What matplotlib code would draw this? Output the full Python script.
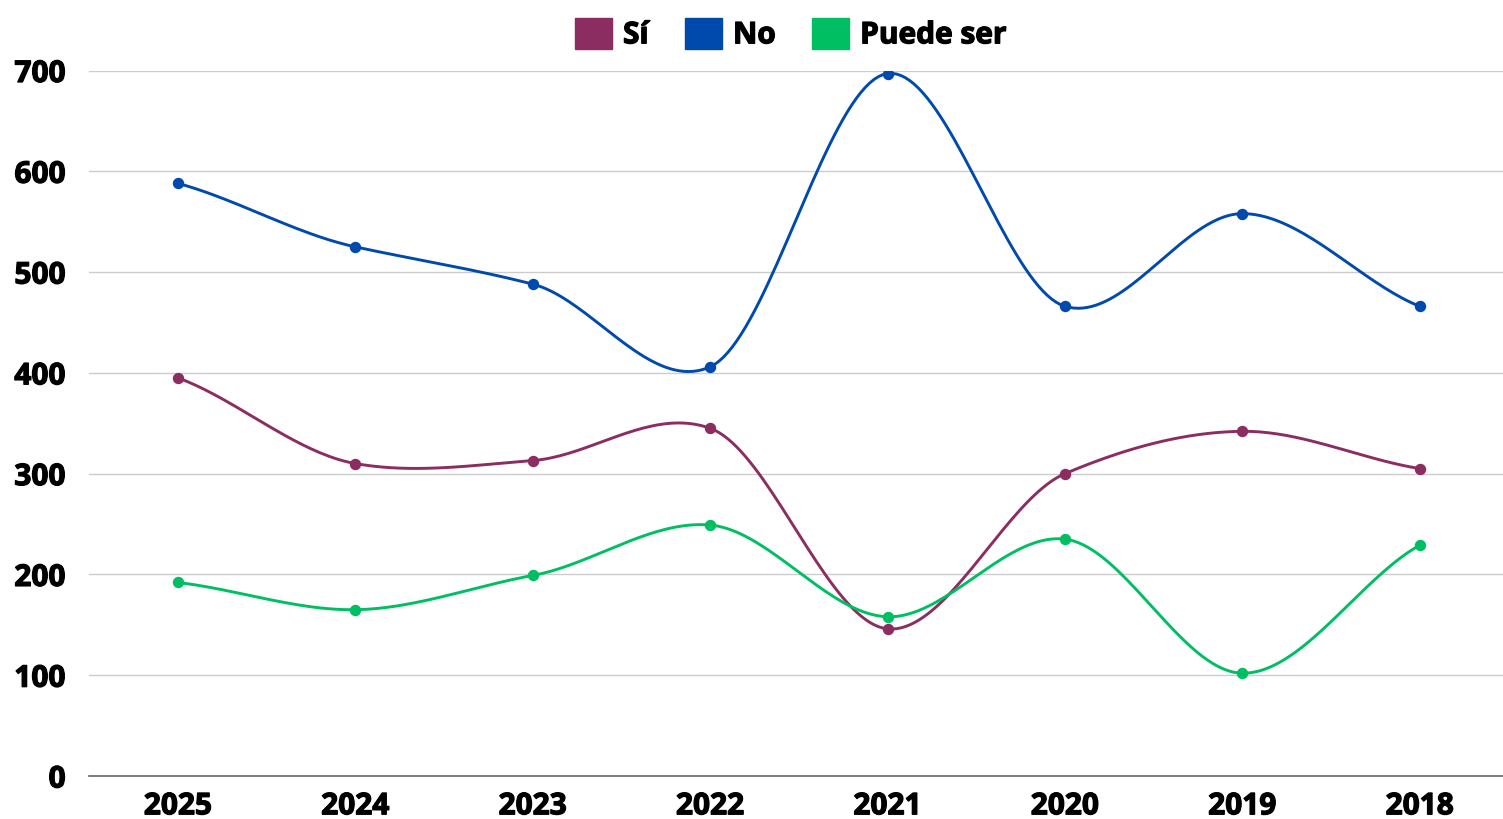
import numpy as np
import matplotlib.pyplot as plt
import matplotlib.patheffects as pe
from matplotlib.patches import Patch

plt.rcParams['font.family'] = ['Open Sans', 'DejaVu Sans']
plt.rcParams['font.weight'] = 'bold'

years = ["2025", "2024", "2023", "2022", "2021", "2020", "2019", "2018"]
si = [395, 310, 313, 345, 146, 300, 342, 305]
no = [588, 525, 488, 406, 697, 466, 558, 466]
puede = [192, 165, 199, 249, 158, 235, 102, 229]

series = [("Sí", si, "#8c2d61"), ("No", no, "#014aad"), ("Puede ser", puede, "#00bf63")]


def smooth(y, k=0.38, n=40):
    # cardinal curve through the points
    y = np.asarray(y, dtype=float)
    m = np.zeros_like(y)
    m[1:-1] = (y[2:] - y[:-2]) * k
    m[0] = (y[1] - y[0]) * 2 * k
    m[-1] = (y[-1] - y[-2]) * 2 * k
    xs, ys = [], []
    for i in range(len(y) - 1):
        t = np.linspace(0, 1, n, endpoint=False)
        h00 = 2*t**3 - 3*t**2 + 1
        h10 = t**3 - 2*t**2 + t
        h01 = -2*t**3 + 3*t**2
        h11 = t**3 - t**2
        xs.append(i + t)
        ys.append(h00*y[i] + h10*m[i] + h01*y[i+1] + h11*m[i+1])
    xs.append([len(y) - 1])
    ys.append([y[-1]])
    return np.concatenate(xs), np.concatenate(ys)


fig = plt.figure(figsize=(15.03, 8.2), dpi=100)
ax = fig.add_axes([89.3/1503, 1 - 777/820, 1 - 89.3/1503, (777 - 71.5)/820])

x = np.arange(len(years))
for name, vals, col in series:
    sx, sy = smooth(vals)
    ax.plot(sx, sy, color=col, lw=2.1, solid_capstyle='round', zorder=3)
    ax.plot(x, vals, 'o', color=col, ms=7.2, zorder=4)

ax.set_xlim(-0.5, (1503 - 178) / 177.4)
ax.set_ylim(0, 700)
ax.set_yticks(range(0, 701, 100))
ax.set_xticks(x)
ax.set_xticklabels(years)
ax.grid(axis='y', color='#cccccc', lw=1)
ax.set_axisbelow(True)
for s in ['top', 'right', 'left']:
    ax.spines[s].set_visible(False)
ax.spines['bottom'].set_color('#666666')
ax.spines['bottom'].set_linewidth(1.2)
ax.tick_params(axis='both', length=0, labelsize=21.5)
ax.tick_params(axis='y', pad=17)
ax.tick_params(axis='x', pad=11)

handles = [Patch(facecolor=col, edgecolor=col, label=name) for name, vals, col in series]
leg = fig.legend(handles=handles, loc='center', bbox_to_anchor=(791/1503, 1 - 35/820),
                 ncol=3, frameon=False, fontsize=21.5, handlelength=1.23, handleheight=1.23,
                 handletextpad=0.37, columnspacing=1.23, borderaxespad=0, borderpad=0)

# make the bold text a bit heavier
heavy = [pe.withStroke(linewidth=0.9, foreground='black')]
for t in ax.get_xticklabels() + ax.get_yticklabels() + leg.get_texts():
    t.set_path_effects(heavy)

fig.savefig("out.png", dpi=100)
